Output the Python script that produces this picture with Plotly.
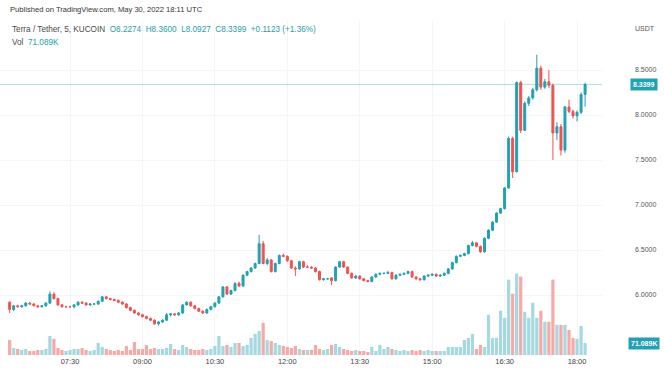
import plotly.graph_objects as go
import pandas as pd

# ---- data (5-minute candles, Terra/Tether, KuCoin, 30 May 2022) ----
times = pd.date_range("2022-05-30 06:15", periods=144, freq="5min")

opens = [5.92, 5.84, 5.88, 5.87, 5.88, 5.91, 5.90, 5.88, 5.87, 5.88, 5.91, 6.01,
         5.96, 5.89, 5.87, 5.87, 5.87, 5.89, 5.92, 5.91, 5.89, 5.90, 5.90, 5.93,
         5.98, 5.96, 5.95, 5.94, 5.92, 5.90, 5.86, 5.83, 5.80, 5.78, 5.76, 5.74,
         5.72, 5.68, 5.70, 5.72, 5.78, 5.79, 5.78, 5.80, 5.89, 5.92, 5.88, 5.85,
         5.82, 5.80, 5.84, 5.87, 5.91, 5.98, 6.09, 6.01, 6.05, 6.13, 6.10, 6.22,
         6.26, 6.30, 6.35, 6.57, 6.35, 6.39, 6.26, 6.35, 6.44, 6.43, 6.38, 6.30,
         6.29, 6.37, 6.31, 6.31, 6.30, 6.26, 6.17, 6.18, 6.19, 6.16, 6.31, 6.37,
         6.31, 6.24, 6.19, 6.21, 6.18, 6.16, 6.15, 6.20, 6.23, 6.24, 6.24, 6.25,
         6.18, 6.22, 6.23, 6.24, 6.26, 6.20, 6.18, 6.17, 6.21, 6.22, 6.23, 6.21,
         6.22, 6.24, 6.29, 6.36, 6.43, 6.44, 6.46, 6.55, 6.58, 6.54, 6.48, 6.63,
         6.72, 6.81, 6.91, 6.96, 7.19, 7.74, 7.37, 8.36, 7.83, 8.13, 8.19, 8.28,
         8.52, 8.31, 8.37, 8.33, 7.80, 7.87, 7.61, 8.09, 8.04, 7.99, 8.03, 8.2274]

highs = [5.93, 5.89, 5.89, 5.89, 5.92, 5.92, 5.91, 5.89, 5.89, 5.92, 6.04, 6.03,
         5.97, 5.90, 5.88, 5.88, 5.90, 5.93, 5.93, 5.92, 5.91, 5.91, 5.94, 5.99,
         5.99, 5.97, 5.96, 5.95, 5.93, 5.91, 5.87, 5.84, 5.81, 5.79, 5.77, 5.75,
         5.73, 5.71, 5.73, 5.80, 5.80, 5.80, 5.81, 5.90, 5.93, 5.93, 5.89, 5.86,
         5.83, 5.85, 5.88, 5.92, 5.99, 6.10, 6.10, 6.06, 6.14, 6.15, 6.23, 6.27,
         6.31, 6.36, 6.67, 6.60, 6.41, 6.40, 6.36, 6.45, 6.46, 6.44, 6.39, 6.32,
         6.38, 6.38, 6.33, 6.32, 6.31, 6.27, 6.19, 6.19, 6.20, 6.32, 6.38, 6.38,
         6.32, 6.25, 6.22, 6.22, 6.19, 6.17, 6.21, 6.24, 6.25, 6.25, 6.27, 6.26,
         6.23, 6.24, 6.25, 6.27, 6.27, 6.21, 6.19, 6.22, 6.23, 6.24, 6.24, 6.23,
         6.25, 6.30, 6.37, 6.44, 6.45, 6.47, 6.56, 6.60, 6.59, 6.55, 6.64, 6.73,
         6.82, 6.92, 6.97, 7.20, 7.76, 7.76, 8.37, 8.38, 8.15, 8.21, 8.30, 8.67,
         8.55, 8.40, 8.50, 8.35, 7.92, 7.90, 8.10, 8.17, 8.06, 8.05, 8.25, 8.3600]

lows = [5.80, 5.82, 5.86, 5.86, 5.87, 5.89, 5.88, 5.86, 5.86, 5.87, 5.90, 5.95,
        5.88, 5.86, 5.86, 5.86, 5.85, 5.88, 5.90, 5.88, 5.88, 5.89, 5.89, 5.92,
        5.95, 5.94, 5.93, 5.91, 5.89, 5.85, 5.82, 5.79, 5.77, 5.75, 5.73, 5.71,
        5.67, 5.66, 5.69, 5.71, 5.76, 5.77, 5.77, 5.79, 5.88, 5.87, 5.84, 5.81,
        5.79, 5.79, 5.83, 5.86, 5.90, 5.97, 6.00, 6.00, 6.04, 6.09, 6.09, 6.21,
        6.25, 6.29, 6.34, 6.34, 6.33, 6.25, 6.25, 6.34, 6.42, 6.37, 6.29, 6.21,
        6.28, 6.30, 6.30, 6.29, 6.25, 6.16, 6.16, 6.17, 6.11, 6.15, 6.30, 6.30,
        6.23, 6.18, 6.18, 6.17, 6.15, 6.14, 6.14, 6.19, 6.22, 6.23, 6.23, 6.17,
        6.17, 6.21, 6.22, 6.23, 6.19, 6.17, 6.16, 6.16, 6.20, 6.21, 6.20, 6.20,
        6.21, 6.23, 6.28, 6.35, 6.42, 6.43, 6.45, 6.54, 6.53, 6.47, 6.47, 6.62,
        6.71, 6.80, 6.90, 6.95, 7.18, 7.30, 7.36, 7.80, 7.82, 8.10, 8.17, 8.26,
        8.28, 8.29, 8.30, 7.50, 7.72, 7.55, 7.58, 8.02, 7.96, 7.93, 8.01, 8.0927]

closes = [5.84, 5.88, 5.87, 5.88, 5.91, 5.90, 5.88, 5.87, 5.88, 5.91, 6.01, 5.96,
          5.89, 5.87, 5.87, 5.87, 5.89, 5.92, 5.91, 5.89, 5.90, 5.90, 5.93, 5.98,
          5.96, 5.95, 5.94, 5.92, 5.90, 5.86, 5.83, 5.80, 5.78, 5.76, 5.74, 5.72,
          5.68, 5.70, 5.72, 5.78, 5.79, 5.78, 5.80, 5.89, 5.92, 5.88, 5.85, 5.82,
          5.80, 5.84, 5.87, 5.91, 5.98, 6.09, 6.01, 6.05, 6.13, 6.10, 6.22, 6.26,
          6.30, 6.35, 6.57, 6.35, 6.39, 6.26, 6.35, 6.44, 6.43, 6.38, 6.30, 6.29,
          6.37, 6.31, 6.31, 6.30, 6.26, 6.17, 6.18, 6.18, 6.16, 6.31, 6.37, 6.31,
          6.24, 6.19, 6.21, 6.18, 6.16, 6.15, 6.20, 6.23, 6.24, 6.24, 6.25, 6.18,
          6.22, 6.23, 6.24, 6.26, 6.20, 6.18, 6.17, 6.21, 6.22, 6.23, 6.21, 6.22,
          6.24, 6.29, 6.36, 6.43, 6.44, 6.46, 6.55, 6.58, 6.54, 6.48, 6.63, 6.72,
          6.81, 6.91, 6.96, 7.19, 7.74, 7.37, 8.36, 7.83, 8.13, 8.19, 8.28, 8.52,
          8.31, 8.37, 8.33, 7.80, 7.87, 7.61, 8.09, 8.04, 7.99, 8.03, 8.2274, 8.3399]

volume_k = [90, 42, 36, 30, 36, 24, 24, 30, 30, 36, 114, 96,
            42, 30, 24, 30, 36, 36, 42, 30, 24, 30, 72, 48,
            36, 30, 24, 30, 24, 54, 30, 78, 36, 36, 60, 36,
            42, 36, 36, 42, 66, 36, 30, 60, 48, 36, 30, 30,
            36, 30, 36, 54, 114, 54, 60, 48, 72, 72, 54, 60,
            102, 126, 144, 192, 90, 84, 72, 60, 54, 48, 42, 54,
            36, 30, 30, 30, 60, 36, 30, 36, 60, 66, 48, 36,
            30, 24, 30, 24, 24, 18, 48, 24, 60, 36, 48, 36,
            30, 24, 30, 24, 30, 24, 30, 24, 30, 24, 24, 24,
            24, 48, 48, 48, 48, 90, 102, 126, 36, 60, 48, 240,
            102, 102, 264, 222, 450, 366, 486, 468, 258, 222, 312, 222,
            264, 198, 198, 450, 180, 180, 180, 150, 102, 96, 174, 71.089]

price_ticks = [6.0, 6.5, 7.0, 7.5, 8.0, 8.5]
price_tick_labels = ["6.0000", "6.5000", "7.0000", "7.5000", "8.0000", "8.5000"]
time_ticks = ["2022-05-30 07:30", "2022-05-30 09:00", "2022-05-30 10:30",
              "2022-05-30 12:00", "2022-05-30 13:30", "2022-05-30 15:00",
              "2022-05-30 16:30", "2022-05-30 18:00"]
time_tick_labels = ["07:30", "09:00", "10:30", "12:00", "13:30", "15:00", "16:30", "18:00"]
last_price = 8.3399
last_volume = 71.089

# ---- style ----
UP = "#22a0b4"
DN = "#ef5350"
VUP = "#a6d8df"
VDN = "#f5aaa8"
FONT = "Liberation Sans"

vcolors = [VUP if c >= o else VDN for o, c in zip(opens, closes)]

W, H = 664, 378
ML, MR, MT, MB = 0, 62, 20, 23
PW, PH = W - ML - MR, H - MT - MB


def px(xp):
    return (xp - ML) / PW


def py(yp):
    return (H - MB - yp) / PH


fig = go.Figure()
fig.add_trace(go.Bar(x=times, y=volume_k, marker=dict(color=vcolors, line=dict(width=0)),
                     yaxis="y", hoverinfo="skip", showlegend=False))
fig.add_trace(go.Candlestick(x=times, open=opens, high=highs, low=lows, close=closes,
                             increasing=dict(line=dict(color=UP, width=1), fillcolor=UP),
                             decreasing=dict(line=dict(color=DN, width=1), fillcolor=DN),
                             whiskerwidth=0, yaxis="y2", showlegend=False))

fig.add_shape(type="line", xref="paper", x0=0, x1=1, yref="y2", y0=last_price, y1=last_price,
              line=dict(color="rgba(34,160,180,0.35)", width=1))

ann = []
ann.append(dict(x=px(8), y=py(10), xref="paper", yref="paper", xanchor="left", yanchor="middle",
                text="Published on TradingView.com, May 30, 2022 18:11 UTC", showarrow=False,
                font=dict(family=FONT, size=7.6, color="#333333")))
ann.append(dict(x=px(10), y=py(30), xref="paper", yref="paper", xanchor="left", yanchor="middle",
                text=("<span style='color:#4a4a4a'>Terra / Tether, 5, KUCOIN</span>&nbsp;&nbsp;"
                      "O8.2274&nbsp;&nbsp;H8.3600&nbsp;&nbsp;L8.0927&nbsp;&nbsp;C8.3399&nbsp;&nbsp;+0.1123 (+1.36%)"),
                showarrow=False, font=dict(family=FONT, size=8.2, color="#26a0a8")))
ann.append(dict(x=px(10), y=py(42), xref="paper", yref="paper", xanchor="left", yanchor="middle",
                text="<span style='color:#4a4a4a'>Vol</span>&nbsp;&nbsp;71.089K",
                showarrow=False, font=dict(family=FONT, size=8.2, color="#26a0a8")))
ann.append(dict(x=px(645), y=py(28), xref="paper", yref="paper", xanchor="center", yanchor="middle",
                text="USDT", showarrow=False, font=dict(family=FONT, size=7, color="#555555")))
ann.append(dict(x=px(644), y=last_price, xref="paper", yref="y2", xanchor="center", yanchor="middle",
                text="<b>8.3399</b>", showarrow=False, bgcolor=UP, borderpad=2,
                font=dict(family=FONT, size=7, color="white")))
ann.append(dict(x=px(644), y=last_volume, xref="paper", yref="y", xanchor="center", yanchor="middle",
                text="<b>71.089K</b>", showarrow=False, bgcolor=UP, borderpad=2,
                font=dict(family=FONT, size=7, color="white")))

fig.update_layout(
    width=W, height=H,
    margin=dict(l=ML, r=MR, t=MT, b=MB),
    paper_bgcolor="white", plot_bgcolor="white",
    showlegend=False,
    annotations=ann,
    bargap=0.2,
    xaxis=dict(type="date", range=["2022-05-30 06:03", "2022-05-30 18:31"],
               rangeslider=dict(visible=False),
               tickvals=time_ticks, ticktext=time_tick_labels,
               tickfont=dict(family=FONT, size=7.5, color="#444444"),
               showgrid=True, gridcolor="#f3f5f8", gridwidth=1,
               showline=False, zeroline=False, ticks=""),
    yaxis=dict(range=[0, 2000], visible=False, showgrid=False, fixedrange=True),
    yaxis2=dict(overlaying="y", side="right", range=[5.3333, 9.0556],
                tickvals=price_ticks, ticktext=price_tick_labels,
                tickfont=dict(family=FONT, size=7, color="#555555"),
                ticklabelstandoff=32,
                showgrid=True, gridcolor="#f3f5f8", gridwidth=1,
                showline=False, zeroline=False, ticks=""),
)

fig.write_html("out.html", config={"displayModeBar": False},
               post_script="document.body.style.margin='0';document.body.style.padding='0';")
